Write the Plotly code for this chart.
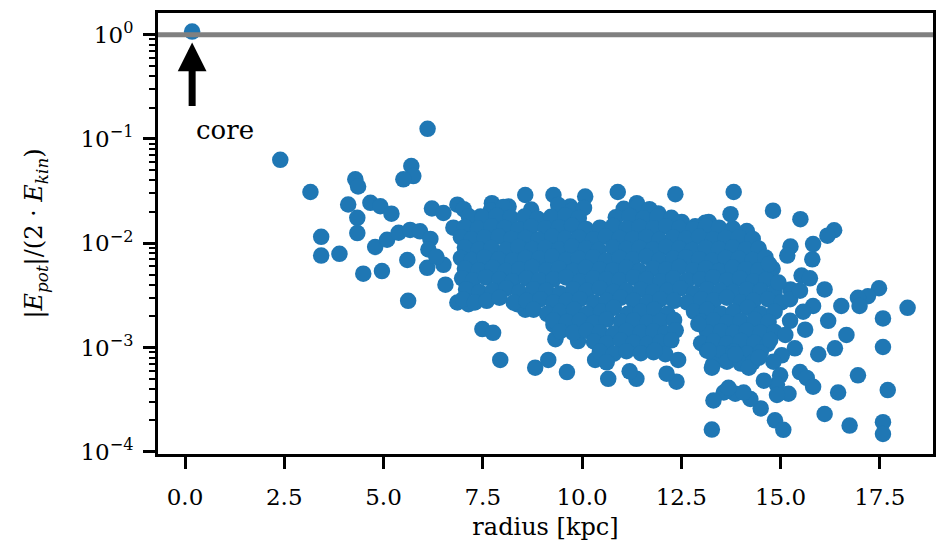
import math
import plotly.graph_objects as go

# ---- data: radius [kpc] and |E_pot| / (2 E_kin) per clump ----
core_radius = [0.18]
core_ratio = [1.07]

inner_radius = [2.40, 6.11, 3.16, 4.29, 4.36, 5.70, 5.75, 5.50, 4.11, 4.67,
                4.92, 5.20, 4.34, 4.34, 3.43, 3.43, 3.89, 4.49, 4.96, 4.79,
                5.09, 5.38, 5.67, 5.92, 6.18, 5.60, 6.13, 6.10, 6.51, 6.56,
                6.22, 6.51, 6.86, 6.76, 5.62, 6.86, 7.14, 6.33,
                7.49, 7.76, 7.94, 8.82, 9.15, 9.62, 9.33, 9.90, 9.28, 9.70,
                10.33, 10.66, 10.53, 8.57, 8.37]
inner_ratio = [0.063, 0.125, 0.031, 0.041, 0.035, 0.055, 0.044, 0.041, 0.0235, 0.0244,
               0.0226, 0.0192, 0.0175, 0.0125, 0.0115, 0.0076, 0.0079, 0.0051, 0.0054, 0.0092,
               0.0108, 0.0126, 0.0134, 0.0130, 0.0110, 0.0069, 0.0087, 0.0058, 0.0062, 0.0040,
               0.0215, 0.0195, 0.0234, 0.0141, 0.0028, 0.0027, 0.0026, 0.0074,
               0.0015, 0.00138, 0.00076, 0.00064, 0.00076, 0.00058, 0.0012, 0.00115, 0.00165, 0.0016,
               0.00076, 0.00050, 0.00102, 0.0023, 0.0026]

outer_radius = [10.90, 12.35, 13.82, 14.81, 15.50, 16.35, 16.18, 15.25, 15.17, 15.82,
                15.80, 13.74, 14.71, 15.53, 15.74, 16.11, 17.48, 17.20, 16.95, 16.99,
                18.20, 17.58, 16.53, 16.20, 15.82, 15.57, 16.66, 16.37, 15.95, 15.36,
                17.58, 15.03, 14.82, 16.95, 15.49, 15.66, 15.82, 14.99, 14.91, 15.20,
                14.91, 16.45, 17.70, 16.11, 16.74, 17.58, 17.58, 14.86, 15.07, 13.27,
                14.58, 14.50, 14.24, 13.86, 13.57, 13.31, 13.27, 12.38, 12.13, 12.42,
                11.37, 11.20, 11.83, 12.93, 13.19, 13.86, 14.20, 14.45, 14.07, 13.69,
                14.95, 15.24, 15.24, 15.62, 15.12, 14.74, 15.49]
outer_ratio = [0.031, 0.0295, 0.031, 0.0205, 0.0170, 0.0133, 0.0118, 0.0093, 0.0076, 0.0098,
               0.0070, 0.0190, 0.0063, 0.0049, 0.0046, 0.0036, 0.0037, 0.0031, 0.0030, 0.0025,
               0.0024, 0.0019, 0.0025, 0.0018, 0.0025, 0.0022, 0.00132, 0.00098, 0.00086, 0.00098,
               0.00101, 0.00084, 0.00073, 0.00054, 0.00058, 0.00051, 0.00042, 0.00054, 0.00044, 0.00036,
               0.00035, 0.00037, 0.00039, 0.00023, 0.000178, 0.000192, 0.000148, 0.00020, 0.000162, 0.000163,
               0.00048, 0.00026, 0.00032, 0.00036, 0.00037, 0.00031, 0.00064, 0.00047, 0.00056, 0.00076,
               0.00050, 0.00059, 0.00093, 0.00168, 0.00093, 0.00086, 0.00064, 0.00080, 0.00037, 0.00041,
               0.0042, 0.0029, 0.0018, 0.00148, 0.00132, 0.00118, 0.0035]

rim_radius = [7.73, 8.57, 9.28, 10.08, 8.15, 9.70, 7.44, 11.38, 11.80, 13.10,
              14.15, 14.03, 14.61, 13.56, 11.92, 13.19, 12.51, 13.44, 12.85]
rim_ratio = [0.0242, 0.029, 0.029, 0.028, 0.0225, 0.0225, 0.0180, 0.0242, 0.0180, 0.0157,
             0.0131, 0.0087, 0.0067, 0.0075, 0.0193, 0.0160, 0.0160, 0.0137, 0.0145]

# dense disk population, listed band by band from high to low ratio
disk_radius = [
    7.02, 7.70, 8.02, 8.72, 9.40, 9.75, 10.05, 11.05, 11.40, 11.70,
    7.15, 7.50, 7.85, 8.20, 8.55, 8.88, 9.22, 9.58, 9.92, 10.85, 11.20, 11.55, 11.90, 12.25,
    7.05, 7.38, 7.72, 8.05, 8.40, 8.72, 9.08, 9.42, 9.75, 10.10, 10.45, 10.78, 11.12, 11.45,
    11.80, 12.12, 12.45, 12.80, 13.12, 13.45, 13.80,
    6.95, 7.22, 7.55, 7.90, 8.22, 8.58, 8.90, 9.25, 9.58, 9.92, 10.28, 10.60, 10.95, 11.28,
    11.62, 11.95, 12.30, 12.62, 12.95, 13.30, 13.62, 13.95, 14.30,
    7.05, 7.40, 7.72, 8.08, 8.40, 8.75, 9.08, 9.42, 9.75, 10.10, 10.42, 10.78, 11.12, 11.45,
    11.78, 12.12, 12.45, 12.78, 13.12, 13.45, 13.80, 14.12, 14.45,
    6.95, 7.22, 7.55, 7.90, 8.25, 8.58, 8.92, 9.25, 9.60, 9.92, 10.28, 10.60, 10.95, 11.28,
    11.62, 11.95, 12.30, 12.62, 12.95, 13.28, 13.62, 13.95, 14.30, 14.62,
    7.05, 7.40, 7.75, 8.08, 8.42, 8.75, 9.10, 9.42, 9.78, 10.10, 10.45, 10.78, 11.12, 11.45,
    11.80, 12.12, 12.45, 12.80, 13.12, 13.45, 13.80, 14.12, 14.45, 14.80,
    6.98, 7.25, 7.58, 7.92, 8.25, 8.60, 8.92, 9.28, 9.60, 9.95, 10.28, 10.62, 10.95, 11.30,
    11.62, 11.98, 12.30, 12.65, 12.98, 13.30, 13.65, 13.98, 14.32, 14.65,
    7.08, 7.42, 7.75, 8.10, 8.42, 8.78, 9.10, 9.45, 9.78, 10.12, 10.45, 10.80, 11.12, 11.48,
    11.80, 12.15, 12.48, 12.82, 13.15, 13.48, 13.82, 14.15, 14.50, 14.85, 15.25,
    7.00, 7.30, 7.60, 7.92, 8.28, 8.60, 8.95, 9.28, 9.62, 9.95, 10.30, 10.62, 10.98, 11.30,
    11.65, 11.98, 12.32, 12.65, 13.00, 13.32, 13.65, 14.00, 14.32, 14.68, 15.02,
    8.78, 9.12, 9.45, 9.80, 10.12, 10.48, 10.80, 11.15, 11.48, 11.82, 12.15, 12.82, 13.15,
    13.50, 13.82, 14.18, 14.50, 14.85,
    9.28, 9.62, 9.95, 10.30, 10.62, 10.98, 11.30, 11.65, 11.98, 12.32, 13.00, 13.32, 13.65,
    14.00, 14.35, 14.70,
    9.45, 9.78, 10.12, 10.45, 10.80, 11.12, 11.48, 11.80, 12.10, 12.36, 13.15, 13.50, 13.82,
    14.15, 14.50, 14.85,
    10.30, 10.62, 10.98, 11.30, 11.65, 11.98, 12.25, 13.00, 13.32, 13.65, 14.00, 14.35, 14.68,
    10.45, 10.80, 11.12, 11.48, 11.80, 12.10, 13.15, 13.50, 13.82, 14.15, 14.50,
    10.62, 13.30, 13.65, 14.00, 14.30,
]
disk_ratio = [
    0.0212, 0.0206, 0.0222, 0.0210, 0.0233, 0.0205, 0.0218, 0.0214, 0.0227, 0.0212,
    0.0181, 0.0175, 0.0183, 0.0176, 0.0180, 0.0172, 0.0179, 0.0184, 0.0174, 0.0177, 0.0182, 0.0173, 0.0179, 0.0175,
    0.0143, 0.0138, 0.0145, 0.0140, 0.0136, 0.0144, 0.0139, 0.0142, 0.0147, 0.0137, 0.0141, 0.0146, 0.0138, 0.0143,
    0.0139, 0.0145, 0.0140, 0.0136, 0.0144, 0.0141, 0.0138,
    0.0114, 0.0109, 0.0113, 0.0116, 0.0110, 0.0112, 0.0108, 0.0115, 0.0111, 0.0113, 0.0109, 0.0116, 0.0112, 0.0110,
    0.0114, 0.0108, 0.0113, 0.0111, 0.0115, 0.0109, 0.0112, 0.0114, 0.0110,
    0.0091, 0.0087, 0.0090, 0.0086, 0.0092, 0.0088, 0.0090, 0.0087, 0.0093, 0.0089, 0.0086, 0.0091, 0.0088, 0.0090,
    0.0087, 0.0092, 0.0089, 0.0086, 0.0090, 0.0088, 0.0091, 0.0087, 0.0089,
    0.0072, 0.0069, 0.0073, 0.0070, 0.0068, 0.0072, 0.0071, 0.0074, 0.0069, 0.0071, 0.0073, 0.0068, 0.0072, 0.0070,
    0.0074, 0.0069, 0.0071, 0.0073, 0.0070, 0.0068, 0.0072, 0.0071, 0.0069, 0.0073,
    0.0057, 0.0055, 0.0058, 0.0054, 0.0056, 0.0059, 0.0055, 0.0057, 0.0054, 0.0058, 0.0056, 0.0055, 0.0058, 0.0054,
    0.0057, 0.0056, 0.0059, 0.0055, 0.0057, 0.0054, 0.0058, 0.0056, 0.0055, 0.0057,
    0.0046, 0.0044, 0.0047, 0.0045, 0.0043, 0.0046, 0.0044, 0.0045, 0.0047, 0.0043, 0.0046, 0.0045, 0.0044, 0.0047,
    0.0045, 0.0043, 0.0046, 0.0044, 0.0045, 0.0047, 0.0044, 0.0046, 0.0043, 0.0045,
    0.0036, 0.0034, 0.0035, 0.0037, 0.0034, 0.0036, 0.0035, 0.0033, 0.0036, 0.0035, 0.0037, 0.0034, 0.0035, 0.0036,
    0.0034, 0.0035, 0.0037, 0.0033, 0.0036, 0.0035, 0.0034, 0.0036, 0.0035, 0.0034, 0.0036,
    0.0029, 0.0027, 0.0028, 0.0030, 0.0027, 0.0028, 0.0029, 0.0027, 0.0028, 0.0029, 0.0027, 0.0028, 0.0030, 0.0028,
    0.0027, 0.0029, 0.0028, 0.0027, 0.0029, 0.0028, 0.0030, 0.0027, 0.0028, 0.0029, 0.0027,
    0.0023, 0.0021, 0.0022, 0.0023, 0.0021, 0.0022, 0.0024, 0.0021, 0.0022, 0.0023, 0.0021, 0.0022, 0.0023,
    0.0021, 0.0022, 0.0024, 0.0021, 0.0022,
    0.00182, 0.00175, 0.00180, 0.00172, 0.00185, 0.00177, 0.00181, 0.00174, 0.00179, 0.00183, 0.00176, 0.00181, 0.00173,
    0.00179, 0.00184, 0.00175,
    0.00143, 0.00138, 0.00145, 0.00140, 0.00136, 0.00144, 0.00139, 0.00142, 0.00137, 0.00146, 0.00140, 0.00143, 0.00138,
    0.00145, 0.00139, 0.00141,
    0.00114, 0.00109, 0.00116, 0.00111, 0.00108, 0.00113, 0.00117, 0.00110, 0.00114, 0.00109, 0.00115, 0.00111, 0.00108,
    0.00091, 0.00087, 0.00092, 0.00088, 0.00090, 0.00086, 0.00093, 0.00088, 0.00091, 0.00087, 0.00090,
    0.00072, 0.00069, 0.00073, 0.00070, 0.00072,
]

# axis ticks
x_ticks = [0.0, 2.5, 5.0, 7.5, 10.0, 12.5, 15.0, 17.5]
x_ticklabels = ["0.0", "2.5", "5.0", "7.5", "10.0", "12.5", "15.0", "17.5"]
y_ticks = [1e-4, 1e-3, 1e-2, 1e-1, 1e0]
y_ticklabels = ["10<sup>−4</sup>", "10<sup>−3</sup>", "10<sup>−2</sup>",
                "10<sup>−1</sup>", "10<sup>0</sup>"]
x_range = [-0.68, 18.84]
y_log_range = [-4.022, 0.208]

# virial reference level and the core marker arrow
virial_level = 1.0
arrow_tip_ratio = 0.84
arrow_tail_ratio = 0.20
core_label_ratio = 0.123
core_label_radius = 1.02

assert len(inner_radius) == len(inner_ratio)
assert len(outer_radius) == len(outer_ratio)
assert len(rim_radius) == len(rim_ratio)
assert len(disk_radius) == len(disk_ratio)

radius = core_radius + inner_radius + rim_radius + disk_radius + outer_radius
ratio = core_ratio + inner_ratio + rim_ratio + disk_ratio + outer_ratio

FONT = "DejaVu Serif"
BLUE = "#1f77b4"

fig = go.Figure()
fig.add_trace(go.Scatter(
    x=radius, y=ratio, mode="markers",
    marker=dict(size=16.5, color=BLUE, line=dict(width=0)),
    showlegend=False, hoverinfo="skip",
))
# invisible carriers for the overlaid axes that draw the tick marks
for xa, ya in (("x", "y2"), ("x", "y3"), ("x2", "y")):
    fig.add_trace(go.Scatter(
        x=core_radius, y=core_ratio, xaxis=xa, yaxis=ya, mode="markers",
        marker=dict(opacity=0), showlegend=False, hoverinfo="skip",
    ))

fig.add_hline(y=virial_level, line=dict(color="#808080", width=5))

# arrow pointing at the core (annotation coordinates are log10 on a log axis)
fig.add_annotation(
    x=core_radius[0], y=math.log10(arrow_tip_ratio),
    ax=core_radius[0], ay=math.log10(arrow_tail_ratio),
    xref="x", yref="y", axref="x", ayref="y",
    text="", showarrow=True, arrowhead=2, arrowsize=0.82,
    arrowwidth=7, arrowcolor="black", standoff=0, startstandoff=0,
)
fig.add_annotation(
    x=core_label_radius, y=math.log10(core_label_ratio),
    xref="x", yref="y", text="core", showarrow=False,
    font=dict(family=FONT, size=26, color="black"),
)

axis_common = dict(
    showline=True, linewidth=3, linecolor="black", mirror=True,
    ticks="outside", ticklen=12, tickwidth=3, tickcolor="black",
    showgrid=False, zeroline=False, automargin=False,
    tickfont=dict(family=FONT, size=23, color="black"),
)
tick_only = dict(
    showticklabels=False, showgrid=False, showline=False, zeroline=False,
    automargin=False, ticks="outside", tickcolor="black",
)

fig.update_xaxes(
    range=x_range, tickmode="array", tickvals=x_ticks, ticktext=x_ticklabels,
    ticklabelstandoff=8,
    title=dict(text="radius [kpc]", font=dict(family=FONT, size=24, color="black"), standoff=10),
    **axis_common,
)
fig.update_yaxes(
    type="log", range=y_log_range, tickmode="array", tickvals=y_ticks, ticktext=y_ticklabels,
    ticklabelstandoff=5,
    title=dict(text="|<i>E<sub>pot</sub></i>|/(2 · <i>E<sub>kin</sub></i>)",
               font=dict(family=FONT, size=24, color="black"), standoff=31),
    **axis_common,
)

fig.update_layout(
    width=937, height=543,
    margin=dict(l=158, r=4, t=13, b=89),
    paper_bgcolor="white", plot_bgcolor="white",
    font=dict(family=FONT, color="black"),
    # minor log ticks (every digit within a decade)
    yaxis2=dict(type="log", range=y_log_range, overlaying="y", side="left", anchor="x",
                dtick="D1", ticklen=8, tickwidth=2, **tick_only),
    # major decade ticks
    yaxis3=dict(type="log", range=y_log_range, overlaying="y", side="left", anchor="x",
                tickmode="array", tickvals=y_ticks, ticklen=12, tickwidth=3, **tick_only),
    xaxis2=dict(range=x_range, overlaying="x", side="bottom", anchor="y",
                tickmode="array", tickvals=x_ticks, ticklen=12, tickwidth=3, **tick_only),
)

fig.write_html("out.html", config={"displayModeBar": False})
